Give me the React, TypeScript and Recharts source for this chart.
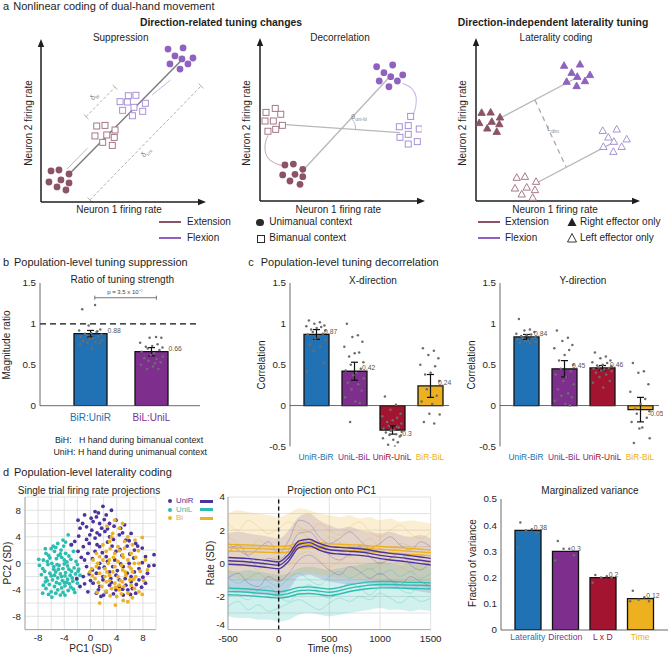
import React from "react"
import {
  Area,
  Bar,
  CartesianGrid,
  Cell,
  ComposedChart,
  ErrorBar,
  Line,
  ReferenceDot,
  ReferenceLine,
  Scatter,
  ScatterChart,
  XAxis,
  YAxis,
} from "recharts"

const FONT = '"Liberation Sans", Arial, Helvetica, sans-serif'
const INK = "#1e1e1e"
const AXIS = "#444"
const MAROON = "#8c5268"
const LILAC = "#8e62be"
const MAROON_OPEN = "#9b6b7d"
const LILAC_OPEN = "#9f86d2"
const BLUE = "#2171b5"
const PURPLE = "#7e2f8e"
const RED = "#a2142f"
const GOLD = "#edb120"
const INDIGO = "#4b34a0"
const TEAL = "#2dbdb1"
const AMBER = "#ecb124"
const DOT = "#6d6d6d"

const F_HEAD = 11
const F_BOLD = 10.4
const F_TITLE = 10
const F_LABEL = 10
const F_TICK = 9.8

// ---- a: schematic clusters (axis units 0..10) ----
const SUP_EXT_UNI = [[0.62, 1.94], [1.11, 2.0], [1.73, 1.75], [0.49, 1.25], [1.23, 1.38], [1.73, 1.19], [0.99, 0.94], [1.54, 0.75]]
const SUP_FLX_UNI = [[7.84, 9.56], [8.77, 9.63], [8.27, 9.13], [8.7, 8.94], [9.38, 9.0], [7.96, 8.63], [9.07, 8.63], [8.58, 8.31]]
const SUP_EXT_BI = [[3.44, 4.75], [3.95, 4.79], [4.57, 4.5], [3.33, 4.13], [4.06, 4.19], [4.52, 4.04], [3.81, 3.73], [4.4, 3.54]]
const SUP_FLX_BI = [[5.39, 6.64], [5.86, 6.67], [4.88, 6.27], [5.33, 6.25], [6.44, 6.17], [5.74, 5.92], [5.04, 5.73], [6.28, 5.67], [5.64, 5.39]]

const DEC_EXT_UNI = [[1.54, 2.25], [2.06, 2.31], [2.64, 1.98], [1.4, 1.63], [2.16, 1.67], [2.64, 1.52], [1.85, 1.25], [2.47, 1.04]]
const DEC_FLX_UNI = [[7.2, 8.39], [8.19, 8.5], [7.65, 8.02], [8.07, 7.77], [8.81, 7.88], [7.36, 7.5], [8.48, 7.5], [7.96, 7.14]]
const DEC_EXT_BI = [[0.37, 5.54], [0.94, 5.79], [1.28, 5.42], [0.31, 5.0], [0.82, 5.0], [1.38, 4.73], [0.49, 4.36], [0.97, 4.48]]
const DEC_FLX_BI = [[9.3, 5.29], [8.6, 4.64], [9.15, 4.71], [9.83, 4.5], [8.64, 3.98], [9.15, 4.17], [9.71, 3.71], [9.15, 3.56]]
const DEC_EXT_ARC = [[1.34, 2.21], [0.62, 2.56], [0.31, 3.19], [0.37, 3.81], [0.51, 4.11]]
const DEC_FLX_ARC = [[8.81, 7.36], [9.36, 7.04], [9.63, 6.52], [9.61, 5.89], [9.46, 5.38]]
const DEC_ANGLE_ARC = [[5.9, 4.47], [5.87, 4.77], [5.77, 4.99], [5.62, 5.18]]

const LAT_EXT_R = [[0.35, 5.52], [0.91, 5.54], [1.49, 5.23], [0.2, 4.88], [0.98, 4.96], [1.45, 4.81], [0.7, 4.54], [1.29, 4.33]]
const LAT_FLX_R = [[5.47, 8.46], [6.46, 8.54], [5.94, 8.02], [6.29, 7.77], [7.08, 7.88], [5.63, 7.46], [6.77, 7.5], [6.25, 7.19]]
const LAT_EXT_L = [[2.53, 1.46], [3.04, 1.52], [3.73, 1.21], [2.42, 0.79], [3.15, 0.85], [3.66, 0.69], [2.84, 0.42], [3.52, 0.21]]
const LAT_FLX_L = [[7.87, 4.39], [8.74, 4.48], [8.22, 3.98], [8.57, 3.71], [9.36, 3.86], [7.91, 3.39], [9.05, 3.39], [8.53, 3.08]]

// ---- b: ratio of tuning strength ----
const RATIO_NAMES = ["BiR:UniR", "BiL:UniL"]
const RATIO_MEANS = [0.88, 0.66]
const RATIO_SEM = [0.04, 0.05]
const RATIO_DOTS_R = [1.18, 1.23, 0.98, 0.93, 0.92, 0.9, 0.89, 0.88, 0.87, 0.86, 0.85, 0.84, 0.83, 0.82, 0.8, 0.79, 0.78, 0.77, 0.76, 0.75, 0.7, 0.91]
const RATIO_DOTS_L = [1.0, 0.84, 0.83, 0.83, 0.77, 0.75, 0.73, 0.72, 0.71, 0.7, 0.68, 0.66, 0.64, 0.62, 0.6, 0.58, 0.57, 0.55, 0.53, 0.5, 0.48, 0.45, 0.45, 0.52]

// ---- c: decorrelation ----
const CORR_NAMES = ["UniR-BiR", "UniL-BiL", "UniR-UniL", "BiR-BiL"]
const XCORR_MEANS = [0.87, 0.42, -0.3, 0.24]
const XCORR_SEM = [0.06, 0.11, 0.05, 0.14]
const XCORR_DOTS_1 = [1.04, 1.02, 1.0, 0.98, 0.97, 0.96, 0.95, 0.93, 0.92, 0.9, 0.88, 0.87, 0.85, 0.82, 0.8, 0.75, 0.72, 0.67, 0.52, 0.42]
const XCORR_DOTS_2 = [1.0, 0.86, 0.84, 0.78, 0.72, 0.65, 0.64, 0.6, 0.53, 0.5, 0.45, 0.43, 0.4, 0.37, 0.33, 0.28, 0.26, 0.2, 0.18, 0.1, 0.05, 0.03, -0.2]
const XCORR_DOTS_3 = [0.11, 0.01, -0.05, -0.1, -0.13, -0.15, -0.18, -0.2, -0.22, -0.25, -0.27, -0.28, -0.3, -0.3, -0.32, -0.33, -0.35, -0.36, -0.38, -0.4, -0.42, -0.45, -0.48, -0.5, -0.55, -0.37, -0.31, -0.26]
const XCORR_DOTS_4 = [0.7, 0.67, 0.62, 0.58, 0.5, 0.48, 0.4, 0.38, 0.3, 0.2, 0.12, 0.05, 0.02, -0.1, -0.11, -0.2, -0.22]
const YCORR_MEANS = [0.84, 0.45, 0.46, -0.05]
const YCORR_SEM = [0.03, 0.1, 0.03, 0.15]
const YCORR_DOTS_1 = [1.06, 0.93, 0.92, 0.9, 0.88, 0.87, 0.86, 0.85, 0.84, 0.83, 0.82, 0.81, 0.8, 0.79, 0.78, 0.77, 0.76]
const YCORR_DOTS_2 = [0.92, 0.83, 0.79, 0.74, 0.7, 0.68, 0.62, 0.55, 0.5, 0.45, 0.42, 0.38, 0.35, 0.3, 0.26, 0.2, 0.15, 0.12, 0.1, 0.06, 0.02, 0.0]
const YCORR_DOTS_3 = [0.65, 0.6, 0.58, 0.55, 0.53, 0.52, 0.5, 0.49, 0.48, 0.47, 0.46, 0.45, 0.44, 0.43, 0.42, 0.4, 0.38, 0.35, 0.3, 0.28, 0.22]
const YCORR_DOTS_4 = [0.52, 0.42, 0.4, 0.26, 0.17, 0.08, 0.02, -0.04, -0.07, -0.1, -0.15, -0.2, -0.27, -0.28, -0.4, -0.46, -0.55]

// ---- d: single-trial projections (PC1, PC2) ----
const UNIR_PTS = [[1.9, 8.6], [3.2, 8.0], [2.4, 7.3], [0.9, 7.0], [-1.9, 6.5], [0.4, 6.3], [1.4, 6.0], [-0.6, 5.5], [-1.6, 5.3], [1.7, 5.3], [3.9, 6.5], [5.2, 5.8], [6.2, 4.5], [4.4, 4.3], [2.9, 4.0], [-0.1, 4.3], [-2.4, 3.3], [-2.9, 2.8], [-1.1, 2.5], [1.4, 2.5], [6.7, 2.0], [7.9, 2.3], [3.9, 1.8], [-0.4, 1.5], [2.4, 1.0], [8.4, 1.0], [9.7, 1.3], [9.7, -0.3], [1.4, 0.0], [5.9, 0.0], [-0.6, -0.5], [7.4, -0.8], [2.9, -1.3], [0.9, -1.5], [3.9, -1.8], [6.2, -2.0], [-1.1, -2.0], [1.9, -2.5], [4.4, -2.5], [7.4, -2.5], [0.4, -3.0], [2.9, -3.3], [5.4, -3.3], [1.4, -3.5], [8.4, -3.0], [6.4, -3.8], [3.9, -4.0], [2.4, -4.3], [0.9, -4.5], [6.9, -4.5], [-0.4, -4.3], [5.0, -4.8], [-1.6, -3.5], [-2.1, -2.3], [0.7, 3.8], [1.4, 4.3], [2.2, 4.8], [0.2, 5.0], [3.7, 0.5], [5.0, -0.5], [6.7, -1.3], [3.4, -0.5], [1.9, -2.0], [4.4, -3.5], [6.2, -2.8], [0.7, 1.8], [-0.9, 0.5], [6.9, 3.0], [5.4, 3.5], [-0.9, 7.3], [0.7, 7.8], [2.9, 6.0], [8.7, -1.5], [5.7, -4.0], [1.0, 2.8], [2.6, 3.2], [-0.2, 3.0], [3.3, 2.6], [4.8, 1.2], [0.3, -1.0], [2.1, -0.6], [4.1, -1.1], [1.2, -4.0], [3.1, -2.3], [7.8, -3.6], [6.0, 1.4], [-1.4, 0.9], [0.0, -2.6], [5.6, 2.6], [4.6, 5.3], [1.2, 7.6], [2.1, 6.6], [0.1, 6.8], [-1.2, 6.0], [3.6, 5.6], [2.6, 5.2], [1.0, 4.6], [-0.6, 3.6], [-1.8, 4.1], [3.5, 3.6], [4.9, 4.6], [5.9, 3.4], [7.2, 2.6], [4.5, 2.1], [1.8, 1.6], [-1.9, 1.8], [0.3, 0.7], [6.6, 0.8], [7.9, 0.1], [8.9, -0.4], [4.6, -0.1], [2.6, 0.3], [-0.2, -1.6], [1.3, -0.7], [5.6, -1.5], [3.2, -2.9], [4.9, -3.9], [7.0, -3.2], [2.0, -4.8], [3.5, -4.6], [6.1, -4.7], [-0.9, -3.1], [1.6, -5.0], [8.0, -2.1], [5.3, -2.3]]
const UNIL_PTS = [[-3.4, 4.3], [-4.2, 3.5], [-5.0, 3.0], [-3.0, 2.8], [-6.0, 2.2], [-5.5, 1.8], [-4.5, 2.0], [-3.8, 1.5], [-2.6, 1.8], [-6.8, 1.5], [-7.2, 0.5], [-6.2, 0.8], [-5.2, 0.7], [-4.0, 0.5], [-3.0, 0.6], [-2.2, 0.3], [-7.8, -0.3], [-6.5, -0.2], [-5.6, -0.5], [-4.8, -0.3], [-4.2, -0.8], [-3.5, -0.4], [-2.5, -0.7], [-1.8, -0.9], [-7.0, -1.2], [-6.2, -1.5], [-5.3, -1.3], [-4.6, -1.6], [-3.8, -1.4], [-3.1, -1.8], [-2.3, -1.6], [-6.8, -2.2], [-5.8, -2.5], [-5.0, -2.2], [-4.3, -2.6], [-3.5, -2.4], [-2.7, -2.7], [-6.3, -3.2], [-5.5, -3.5], [-4.7, -3.1], [-3.9, -3.4], [-3.0, -3.6], [-2.0, -3.0], [-6.8, -3.8], [-6.0, -4.3], [-5.0, -4.0], [-4.2, -4.4], [-3.4, -4.1], [-5.9, -5.1], [-4.6, -4.8], [-7.3, -4.5], [-6.9, -2.8], [-4.9, 1.2], [-4.0, -0.1], [-5.9, 0.0], [-3.3, -0.9], [-5.2, -2.9], [-4.4, -2.0], [-6.4, 1.2], [-2.8, -2.2], [-1.6, -1.8], [-7.5, -1.7], [-5.7, 2.6], [-4.1, 2.6], [-3.6, -2.9], [-3.8, 3.2], [-5.3, 2.4], [-4.6, 1.4], [-3.3, 1.1], [-6.6, 0.3], [-5.6, -0.9], [-4.9, -0.9], [-3.9, -1.9], [-2.9, -1.2], [-2.1, -2.4], [-6.0, -1.9], [-7.3, -0.8], [-5.5, -1.8], [-4.0, -2.9], [-3.2, -3.1], [-6.6, -2.6], [-5.3, -4.5], [-4.4, -3.7], [-2.6, -3.9], [-7.2, -3.3], [-6.4, -4.7], [-3.9, -4.8], [-5.1, -0.2], [-3.6, 0.2], [-2.0, -0.2], [-6.9, 2.2], [-4.4, 0.9], [-7.9, 0.6], [-1.9, -1.2], [-2.4, -4.4]]
const BI_PTS = [[3.7, 6.5], [4.4, 5.3], [3.4, 4.5], [5.7, 4.0], [2.9, 3.3], [1.9, 2.8], [4.2, 2.5], [5.2, 2.3], [6.4, 2.8], [7.9, 3.9], [2.4, 1.8], [3.7, 1.5], [4.9, 1.3], [6.2, 1.5], [1.4, 1.0], [0.4, 0.5], [2.9, 0.5], [4.2, 0.3], [5.7, 0.5], [7.4, 0.0], [0.9, -0.5], [2.2, -0.8], [3.7, -0.5], [4.9, -1.0], [6.2, -0.8], [8.7, -1.0], [1.4, -1.5], [2.9, -1.8], [4.2, -2.0], [5.4, -1.8], [6.9, -2.0], [0.7, -2.3], [2.4, -2.8], [3.7, -3.0], [4.9, -2.8], [6.2, -3.3], [1.7, -3.5], [3.2, -3.8], [4.4, -4.0], [5.7, -4.5], [7.4, -4.3], [4.0, -5.0], [1.4, -6.0], [5.7, -5.8], [6.6, -2.4], [-0.1, -1.3], [2.7, 0.0], [4.7, -0.3], [3.4, -1.3], [1.9, 0.5], [5.9, -0.5], [4.4, 1.9], [5.2, 3.3], [3.2, 4.0], [6.7, 0.0], [2.2, -2.0], [4.4, -3.3], [8.4, 0.5], [0.9, 1.5], [6.4, -1.3], [2.5, 5.6], [4.9, 6.0], [3.0, 2.2], [6.8, 3.5], [7.3, 1.9], [5.0, 0.9], [3.5, 0.9], [1.1, 0.0], [0.2, -0.8], [2.5, -1.3], [5.3, -1.3], [7.6, -1.2], [8.1, -2.6], [6.0, -2.5], [4.6, -2.6], [2.9, -2.6], [1.2, -2.9], [3.8, -3.6], [5.1, -3.5], [6.7, -3.8], [2.4, -4.2], [4.7, -4.6], [3.0, -4.9], [6.4, -5.2], [7.9, -4.7], [1.0, -4.4], [3.8, -6.3], [5.0, -5.6], [0.3, -1.9], [6.9, 0.9]]

// ---- d: projection onto PC1 ----
const TIME_MS = [-500, -400, -300, -200, -100, 0, 100, 200, 300, 400, 500, 600, 700, 800, 900, 1000, 1100, 1200, 1300, 1400, 1500]
const UNIR_A = [0.35, 0.32, 0.28, 0.22, 0.15, 0.08, 0.55, 1.35, 1.45, 1.2, 1.02, 0.96, 0.92, 0.88, 0.8, 0.68, 0.6, 0.54, 0.46, 0.38, 0.3]
const UNIR_B = [0.15, 0.12, 0.08, 0.02, -0.05, -0.12, 0.35, 1.15, 1.25, 1.0, 0.82, 0.76, 0.72, 0.68, 0.6, 0.48, 0.4, 0.34, 0.26, 0.18, 0.1]
const UNIR_C = [-0.06, -0.09, -0.13, -0.19, -0.26, -0.33, 0.14, 0.95, 1.05, 0.8, 0.62, 0.56, 0.52, 0.48, 0.4, 0.28, 0.2, 0.14, 0.06, -0.02, -0.1]
const BI_A = [1.15, 1.12, 1.1, 1.08, 1.05, 1.02, 1.06, 1.25, 1.3, 1.25, 1.18, 1.15, 1.12, 1.1, 1.05, 1.02, 0.98, 0.95, 0.9, 0.85, 0.8]
const BI_B = [0.95, 0.92, 0.9, 0.88, 0.86, 0.84, 0.88, 1.08, 1.12, 1.08, 1.0, 0.97, 0.95, 0.92, 0.88, 0.85, 0.8, 0.77, 0.72, 0.68, 0.64]
const BI_C = [0.75, 0.72, 0.7, 0.68, 0.66, 0.64, 0.68, 0.9, 0.95, 0.9, 0.82, 0.8, 0.77, 0.75, 0.7, 0.67, 0.62, 0.58, 0.54, 0.5, 0.46]
const UNIL_A = [-1.5, -1.52, -1.55, -1.6, -1.65, -1.72, -1.62, -1.45, -1.42, -1.48, -1.55, -1.45, -1.3, -1.2, -1.12, -1.1, -1.1, -1.12, -1.15, -1.15, -1.18]
const UNIL_B = [-1.7, -1.72, -1.75, -1.8, -1.85, -1.92, -1.82, -1.65, -1.62, -1.68, -1.75, -1.65, -1.5, -1.4, -1.32, -1.28, -1.28, -1.3, -1.32, -1.33, -1.35]
const UNIL_C = [-1.9, -1.92, -1.95, -2.0, -2.05, -2.1, -2.02, -1.85, -1.82, -1.88, -1.95, -1.85, -1.7, -1.6, -1.52, -1.48, -1.48, -1.5, -1.52, -1.53, -1.55]
const UNIR_HIGH = [1.8, 1.9, 1.8, 1.7, 1.6, 1.5, 2.0, 2.8, 3.0, 2.6, 2.3, 2.1, 2.2, 2.0, 1.9, 1.8, 1.9, 1.7, 1.6, 1.7, 1.5]
const UNIR_LOW = [-1.6, -1.7, -1.8, -1.9, -1.9, -2.0, -1.6, -0.8, -0.7, -0.9, -1.1, -1.2, -1.3, -1.2, -1.3, -1.4, -1.5, -1.5, -1.6, -1.7, -1.8]
const BI_HIGH = [3.0, 3.2, 3.1, 3.0, 2.9, 2.8, 3.0, 3.3, 3.2, 3.0, 2.9, 2.8, 2.9, 2.7, 2.8, 2.6, 2.7, 2.5, 2.6, 2.5, 2.4]
const BI_LOW = [-0.8, -0.9, -1.0, -0.9, -1.0, -1.1, -0.9, -0.6, -0.6, -0.7, -0.8, -0.9, -0.9, -1.0, -1.0, -1.1, -1.1, -1.2, -1.2, -1.3, -1.3]
const UNIL_HIGH = [-0.4, -0.5, -0.4, -0.5, -0.6, -0.7, -0.6, -0.3, -0.2, -0.3, -0.4, -0.3, -0.2, -0.1, 0.0, 0.1, 0.0, -0.1, 0.0, -0.1, -0.2]
const UNIL_LOW = [-3.2, -3.3, -3.3, -3.4, -3.4, -3.5, -3.4, -3.1, -3.0, -3.1, -3.2, -3.1, -3.0, -2.9, -2.8, -2.7, -2.8, -2.8, -2.9, -2.8, -2.9]
const UNIR_TRIAL_1 = [1.2, 0.8, 0.5, 0.9, 1.3, 0.6, 1.4, 2.6, 2.4, 1.6, 1.2, 1.5, 1.9, 1.4, 0.9, 1.2, 1.6, 1.1, 0.8, 1.3, 1.0]
const UNIR_TRIAL_2 = [-0.9, -0.6, -1.2, -1.4, -0.8, -1.1, -0.6, 0.2, 0.5, 0.1, -0.4, -0.7, -0.2, -0.5, -0.9, -0.6, -1.0, -1.3, -0.8, -1.1, -1.4]
const UNIR_TRIAL_3 = [0.6, 1.1, 0.4, -0.2, 0.3, 0.2, 0.8, 1.8, 1.9, 1.3, 0.5, 0.2, 0.6, 1.0, 0.4, 0.0, 0.3, 0.6, -0.1, -0.4, 0.2]
const BI_TRIAL_1 = [2.4, 2.0, 2.6, 2.2, 1.8, 2.1, 2.5, 2.2, 1.9, 2.4, 2.0, 1.7, 2.2, 2.5, 1.9, 1.6, 2.0, 2.3, 1.8, 1.5, 1.9]
const BI_TRIAL_2 = [-0.2, 0.3, 0.0, -0.4, 0.2, 0.4, -0.1, 0.5, 0.7, 0.2, -0.2, 0.1, 0.4, -0.1, -0.4, 0.0, 0.3, -0.2, -0.5, -0.1, 0.1]
const BI_TRIAL_3 = [1.6, 1.2, 0.8, 1.4, 1.0, 0.6, 1.3, 1.9, 1.5, 1.0, 1.6, 1.3, 0.7, 1.1, 1.5, 0.9, 0.6, 1.2, 1.0, 0.5, 0.8]
const UNIL_TRIAL_1 = [-0.8, -1.2, -0.9, -0.6, -1.1, -1.4, -0.9, -0.6, -1.0, -1.3, -0.8, -0.5, -0.9, -0.6, -0.3, -0.7, -0.4, -0.8, -0.5, -0.9, -0.6]
const UNIL_TRIAL_2 = [-2.6, -2.3, -2.8, -2.5, -2.9, -2.7, -2.4, -2.2, -2.5, -2.8, -2.4, -2.1, -2.3, -2.0, -2.2, -1.8, -2.1, -2.4, -2.0, -2.3, -2.1]
const UNIL_TRIAL_3 = [-1.3, -1.9, -2.2, -1.6, -1.4, -2.0, -2.3, -1.7, -1.3, -1.8, -2.1, -1.6, -1.2, -1.5, -1.9, -1.4, -1.1, -1.6, -1.8, -1.3, -1.5]

// ---- d: marginalized variance ----
const MARG_NAMES = ["Laterality", "Direction", "L x D", "Time"]
const MARG_MEANS = [0.38, 0.3, 0.2, 0.12]
const MARG_DOTS_1 = [0.41, 0.385, 0.38, 0.37, 0.315]
const MARG_DOTS_2 = [0.34, 0.31, 0.31, 0.285, 0.265]
const MARG_DOTS_3 = [0.21, 0.205, 0.2, 0.2, 0.18]
const MARG_DOTS_4 = [0.15, 0.125, 0.115, 0.11, 0.11]

// horizontal spread of the per-session dots, in fractions of a category band
const JITTER = [-0.22, 0.12, -0.05, 0.26, -0.3, 0.16, 0.02, -0.15, 0.29, -0.1, 0.21, -0.26, 0.07, -0.02, 0.3, -0.19, 0.13, -0.08, 0.24, -0.28, 0.04, 0.18, -0.12, 0.09, -0.24, 0.27, -0.04, 0.15]

const PC_GRID = [-10, -8, -6, -4, -2, 0, 2, 4, 6, 8, 10]
const TIME_TICKS = [-500, 0, 500, 1000, 1500]
const RATE_GRID = [-4, -3, -2, -1, 0, 1, 2, 3, 4]

const toXY = (pts: number[][]) => pts.map(([x, y]) => ({ x, y }))

function Txt({ x, y, children, size = F_LABEL, color = INK, weight = 400, anchor = "start", rotate = 0 }: any) {
  const tx = anchor === "middle" ? "-50%" : anchor === "end" ? "-100%" : "0%"
  return (
    <div
      style={{
        position: "absolute",
        left: x,
        top: y,
        transform: `translate(${tx}, -50%) rotate(${rotate}deg)`,
        fontSize: size,
        lineHeight: 1,
        color,
        fontWeight: weight,
        whiteSpace: "pre",
      }}
    >
      {children}
    </div>
  )
}

const Sub = ({ children }: any) => <span style={{ fontSize: "0.65em", verticalAlign: "-0.35em" }}>{children}</span>

const dotMark = (color: string) => (p: any) => <circle cx={p.cx} cy={p.cy} r={3.4} fill={color} />
const squareMark = (color: string) => (p: any) => (
  <rect x={p.cx - 3} y={p.cy - 3} width={6} height={6} fill="#fff" stroke={color} strokeWidth={0.9} />
)
const triMark = (color: string, filled: boolean) => (p: any) => (
  <path
    d={`M${p.cx},${p.cy - 3.9}L${p.cx + 3.7},${p.cy + 2.7}L${p.cx - 3.7},${p.cy + 2.7}Z`}
    fill={filled ? color : "#fff"}
    stroke={color}
    strokeWidth={0.9}
  />
)
const noMark = () => <g />
const upHead = (p: any) => <path d={`M${p.cx - 3.2},${p.cy + 5}L${p.cx},${p.cy - 3}L${p.cx + 3.2},${p.cy + 5}Z`} fill={INK} />
const rightHead = (p: any) => <path d={`M${p.cx - 5},${p.cy - 3.2}L${p.cx + 3},${p.cy}L${p.cx - 5},${p.cy + 3.2}Z`} fill={INK} />

const seg = (p: number[], q: number[], stroke: string, width = 1.2, dash?: string) => (
  <ReferenceLine
    segment={[{ x: p[0], y: p[1] }, { x: q[0], y: q[1] }]}
    stroke={stroke}
    strokeWidth={width}
    strokeDasharray={dash}
    ifOverflow="visible"
  />
)

function Schematic({ x, y, w, h, children }: any) {
  const pad = 10
  return (
    <div style={{ position: "absolute", left: x - pad, top: y - pad }}>
      <ScatterChart width={w + 2 * pad} height={h + 2 * pad} margin={{ top: pad, right: pad, bottom: 0, left: 0 }}>
        <XAxis type="number" dataKey="x" domain={[0, 10]} allowDataOverflow tick={false} tickLine={false} height={pad} axisLine={{ stroke: INK, strokeWidth: 1.5 }} />
        <YAxis type="number" dataKey="y" domain={[0, 10]} allowDataOverflow tick={false} tickLine={false} width={pad} axisLine={{ stroke: INK, strokeWidth: 1.5 }} />
        {children}
        <ReferenceDot x={0} y={10} r={0} shape={upHead} ifOverflow="visible" />
        <ReferenceDot x={10} y={0} r={0} shape={rightHead} ifOverflow="visible" />
      </ScatterChart>
    </div>
  )
}

const grayDot = (p: any) => <circle cx={p.cx} cy={p.cy} r={1.25} fill={DOT} />
const valueLabel = (dx: number) => (p: any) => (
  <text x={p.cx + dx} y={p.cy + (p.payload.y < 0 ? 6.4 : -0.8)} fontSize={6.8} fill="#555">
    {String(p.payload.y)}
  </text>
)

function BarPanel({ plot, domain, ticks, names, colors, means, sems, dots, pad, barSize, spread, labelDx, catFont, catGap, baseline, children }: any) {
  const L = 40
  const T = 10
  const R = plot.r ?? 4
  const B = 22
  const rows = names.map((name: string, i: number) => ({ name, value: means[i], err: sems ? sems[i] : 0 }))
  const dotData = dots.flatMap((vals: number[], i: number) =>
    vals.map((v, j) => ({ x: i + 0.5 + JITTER[j % JITTER.length] * spread, y: v })),
  )
  const labelData = means.map((v: number, i: number) => ({ x: i + 0.5, y: v }))
  const catTick = (p: any) => (
    <text x={p.x} y={p.y} dy="0.71em" textAnchor="middle" fontSize={catFont} fill={colors[p.index]}>
      {p.payload.value}
    </text>
  )
  return (
    <div style={{ position: "absolute", left: plot.x - L, top: plot.y - T }}>
      <ComposedChart width={L + plot.w + R} height={T + plot.h + B} data={rows} margin={{ top: T, right: R, bottom: 0, left: 0 }}>
        <XAxis
          dataKey="name"
          type="category"
          height={B}
          padding={pad}
          interval={0}
          tick={catTick}
          tickLine={false}
          tickSize={0}
          tickMargin={catGap}
          axisLine={baseline ? { stroke: AXIS, strokeWidth: 0.8 } : false}
        />
        <XAxis xAxisId="num" type="number" dataKey="x" domain={[0, names.length]} padding={pad} hide />
        <YAxis
          type="number"
          domain={domain}
          ticks={ticks}
          interval={0}
          allowDataOverflow
          width={L}
          tickLine={false}
          tickSize={0}
          tickMargin={4}
          tick={{ fontSize: F_TICK, fill: INK }}
          axisLine={{ stroke: AXIS, strokeWidth: 0.8 }}
        />
        <YAxis yAxisId="lbl" type="number" domain={domain} hide />
        {children}
        <Bar dataKey="value" barSize={barSize} stroke="#111" strokeWidth={1.3} isAnimationActive={false}>
          {names.map((n: string, i: number) => (
            <Cell key={n} fill={colors[i]} />
          ))}
          {sems && <ErrorBar dataKey="err" width={3.5} stroke="#111" strokeWidth={1.2} />}
        </Bar>
        <Scatter xAxisId="num" data={dotData} dataKey="y" shape={grayDot} isAnimationActive={false} />
        <Scatter xAxisId="num" yAxisId="lbl" data={labelData} dataKey="y" shape={valueLabel(labelDx)} isAnimationActive={false} />
      </ComposedChart>
    </div>
  )
}

const pcLabel = (v: number) => (v % 4 === 0 && Math.abs(v) < 10 ? String(v) : "")
const pcDot = (color: string) => (p: any) => <circle cx={p.cx} cy={p.cy} r={1.9} fill={color} />
const rateTick = (p: any) => {
  const v = p.payload.value
  return (
    <text x={p.x} y={p.y} dy={v === -4 ? -1.5 : 3.4} textAnchor="end" fontSize={F_TICK} fill={INK}>
      {v % 2 === 0 ? String(v) : ""}
    </text>
  )
}

const projRows = TIME_MS.map((t, i) => ({
  t,
  rA: UNIR_A[i], rB: UNIR_B[i], rC: UNIR_C[i],
  bA: BI_A[i], bB: BI_B[i], bC: BI_C[i],
  lA: UNIL_A[i], lB: UNIL_B[i], lC: UNIL_C[i],
  rHi: UNIR_HIGH[i], rLo: UNIR_LOW[i],
  bHi: BI_HIGH[i], bLo: BI_LOW[i],
  lHi: UNIL_HIGH[i], lLo: UNIL_LOW[i],
  r1: UNIR_TRIAL_1[i], r2: UNIR_TRIAL_2[i], r3: UNIR_TRIAL_3[i],
  b1: BI_TRIAL_1[i], b2: BI_TRIAL_2[i], b3: BI_TRIAL_3[i],
  l1: UNIL_TRIAL_1[i], l2: UNIL_TRIAL_2[i], l3: UNIL_TRIAL_3[i],
}))

const BANDS = [
  { lo: "lLo", hi: "lHi", color: TEAL, op: 0.22 },
  { lo: "rLo", hi: "rHi", color: INDIGO, op: 0.16 },
  { lo: "bLo", hi: "bHi", color: AMBER, op: 0.2 },
]
const TRIALS = [
  { key: "l1", color: TEAL }, { key: "l2", color: TEAL }, { key: "l3", color: TEAL },
  { key: "r1", color: INDIGO }, { key: "r2", color: INDIGO }, { key: "r3", color: INDIGO },
  { key: "b1", color: AMBER }, { key: "b2", color: AMBER }, { key: "b3", color: AMBER },
]
const MEANS = [
  { key: "bA", color: AMBER }, { key: "bB", color: AMBER }, { key: "bC", color: AMBER },
  { key: "rA", color: INDIGO }, { key: "rB", color: INDIGO }, { key: "rC", color: INDIGO },
  { key: "lA", color: TEAL }, { key: "lB", color: TEAL }, { key: "lC", color: TEAL },
]

const legendLine = (x: number, y: number, w: number, color: string, thick = 2.2) => (
  <div style={{ position: "absolute", left: x, top: y - thick / 2, width: w, height: thick, background: color }} />
)

export default function App() {
  return (
    <div
      style={{
        position: "absolute",
        left: 0,
        top: 0,
        width: 668,
        height: 655,
        background: "#fff",
        fontFamily: FONT,
        color: INK,
        overflow: "hidden",
      }}
    >
      {/* ---------- a ---------- */}
      <Txt x={3} y={5.5} size={F_HEAD}>a</Txt>
      <Txt x={13.3} y={5.5} size={F_HEAD}>Nonlinear coding of dual-hand movement</Txt>
      <Txt x={221} y={22.7} anchor="middle" weight={700} size={F_BOLD}>Direction-related tuning changes</Txt>
      <Txt x={553} y={22.7} anchor="middle" weight={700} size={F_BOLD}>Direction-independent laterality tuning</Txt>
      <Txt x={120.7} y={37.7} anchor="middle" size={F_TITLE}>Suppression</Txt>
      <Txt x={340} y={37.7} anchor="middle" size={F_TITLE}>Decorrelation</Txt>
      <Txt x={556} y={37.7} anchor="middle" size={F_TITLE}>Laterality coding</Txt>

      <Schematic x={41} y={42} w={162} h={160}>
        {seg([1.79, 1.79], [8.69, 8.88], "#7a7a7a", 1.4)}
        {seg([1.59, 2.04], [2.86, 3.36], "#cfb3bf", 1)}
        {seg([8.0, 7.63], [6.86, 6.69], "#c8b8e4", 1)}
        {seg([2.78, 5.33], [4.57, 7.17], "#9a9a9a", 0.8, "3 2")}
        {seg([2.63, 5.48], [2.93, 5.18], "#9a9a9a", 0.8)}
        {seg([4.42, 7.32], [4.72, 7.02], "#9a9a9a", 0.8)}
        {seg([3.02, 0.13], [9.88, 7.25], "#9a9a9a", 0.8, "3 2")}
        {seg([2.87, 0.28], [3.17, -0.02], "#9a9a9a", 0.8)}
        {seg([9.73, 7.4], [10.03, 7.1], "#9a9a9a", 0.8)}
        <Scatter data={toXY(SUP_EXT_BI)} shape={squareMark(MAROON_OPEN)} isAnimationActive={false} />
        <Scatter data={toXY(SUP_FLX_BI)} shape={squareMark(LILAC_OPEN)} isAnimationActive={false} />
        <Scatter data={toXY(SUP_EXT_UNI)} shape={dotMark(MAROON)} isAnimationActive={false} />
        <Scatter data={toXY(SUP_FLX_UNI)} shape={dotMark(LILAC)} isAnimationActive={false} />
      </Schematic>
      <Txt x={95} y={96.7} anchor="middle" rotate={-45} size={7.5} color="#8a8a8a">δ<Sub>bi</Sub></Txt>
      <Txt x={146.7} y={153.3} anchor="middle" rotate={-45} size={7.5} color="#8a8a8a">δ<Sub>uni</Sub></Txt>

      <Schematic x={260} y={41} w={162} h={160}>
        {seg([2.67, 1.94], [7.92, 7.67], "#b8b8b8", 1.3)}
        {seg([1.13, 4.81], [8.64, 4.27], "#b8b8b8", 1.3)}
        <Scatter data={toXY(DEC_ANGLE_ARC)} line={{ stroke: "#aaa", strokeWidth: 0.8 }} lineType="joint" lineJointType="natural" shape={noMark} isAnimationActive={false} />
        <Scatter data={toXY(DEC_EXT_ARC)} line={{ stroke: "#cdb0bc", strokeWidth: 1.1 }} lineType="joint" lineJointType="natural" shape={noMark} isAnimationActive={false} />
        <Scatter data={toXY(DEC_FLX_ARC)} line={{ stroke: "#c9b8e6", strokeWidth: 1.1 }} lineType="joint" lineJointType="natural" shape={noMark} isAnimationActive={false} />
        <Scatter data={toXY(DEC_EXT_BI)} shape={squareMark(MAROON_OPEN)} isAnimationActive={false} />
        <Scatter data={toXY(DEC_FLX_BI)} shape={squareMark(LILAC_OPEN)} isAnimationActive={false} />
        <Scatter data={toXY(DEC_EXT_UNI)} shape={dotMark(MAROON)} isAnimationActive={false} />
        <Scatter data={toXY(DEC_FLX_UNI)} shape={dotMark(LILAC)} isAnimationActive={false} />
      </Schematic>
      <Txt x={351} y={117.5} size={7.5} color="#8a8a8a">θ<Sub>uni-bi</Sub></Txt>

      <Schematic x={476} y={41} w={161} h={160}>
        {seg([1.49, 5.17], [6.46, 7.81], "#b8b8b8", 1.3)}
        {seg([3.73, 1.11], [8.63, 3.71], "#b8b8b8", 1.3)}
        {seg([3.66, 6.31], [5.59, 2.14], "#aaaaaa", 1.3, "5 4")}
        <Scatter data={toXY(LAT_EXT_R)} shape={triMark(MAROON, true)} isAnimationActive={false} />
        <Scatter data={toXY(LAT_FLX_R)} shape={triMark(LILAC, true)} isAnimationActive={false} />
        <Scatter data={toXY(LAT_EXT_L)} shape={triMark(MAROON_OPEN, false)} isAnimationActive={false} />
        <Scatter data={toXY(LAT_FLX_L)} shape={triMark(LILAC_OPEN, false)} isAnimationActive={false} />
      </Schematic>
      <Txt x={547} y={130} size={7.5} color="#8a8a8a">L<Sub>dim</Sub></Txt>

      <Txt x={119} y={210} anchor="middle">Neuron 1 firing rate</Txt>
      <Txt x={338.3} y={210} anchor="middle">Neuron 1 firing rate</Txt>
      <Txt x={555} y={210} anchor="middle">Neuron 1 firing rate</Txt>
      <Txt x={29.3} y={123} anchor="middle" rotate={-90}>Neuron 2 firing rate</Txt>
      <Txt x={246.7} y={123} anchor="middle" rotate={-90}>Neuron 2 firing rate</Txt>
      <Txt x={463.3} y={123} anchor="middle" rotate={-90}>Neuron 2 firing rate</Txt>

      {legendLine(159, 222.3, 22, MAROON)}
      <Txt x={187} y={222.3}>Extension</Txt>
      {legendLine(159, 237.7, 22, LILAC)}
      <Txt x={187} y={237.7}>Flexion</Txt>

      <div style={{ position: "absolute", left: 256.3, top: 218.6, width: 7.4, height: 7.4, borderRadius: "50%", background: "#2a2a2a" }} />
      <Txt x={269.3} y={222.3}>Unimanual context</Txt>
      <div style={{ position: "absolute", left: 256.5, top: 234.5, width: 6, height: 6, border: "1px solid #2a2a2a" }} />
      <Txt x={269.3} y={238}>Bimanual context</Txt>

      {legendLine(478, 222.3, 22, MAROON)}
      <Txt x={505} y={222.3}>Extension</Txt>
      {legendLine(478, 237.7, 22, LILAC)}
      <Txt x={505} y={237.7}>Flexion</Txt>
      <svg style={{ position: "absolute", left: 566, top: 216 }} width={12} height={12}>
        <path d="M6,1.5L10.5,10L1.5,10Z" fill="#222" />
      </svg>
      <Txt x={580} y={222.3}>Right effector only</Txt>
      <svg style={{ position: "absolute", left: 566, top: 231.7 }} width={12} height={12}>
        <path d="M6,1.5L10.5,10L1.5,10Z" fill="#fff" stroke="#222" strokeWidth={0.9} />
      </svg>
      <Txt x={580} y={237.7}>Left effector only</Txt>

      {/* ---------- b ---------- */}
      <Txt x={3} y={262.3} size={F_HEAD}>b</Txt>
      <Txt x={14} y={262.3} size={F_HEAD}>Population-level tuning suppression</Txt>
      <Txt x={122.3} y={280} anchor="middle" size={F_TITLE}>Ratio of tuning strength</Txt>
      <Txt x={7.3} y={345} anchor="middle" rotate={-90}>Magnitude ratio</Txt>
      <BarPanel
        plot={{ x: 40, y: 283.3, w: 160, h: 122.7, r: 8 }}
        domain={[0, 1.5]}
        ticks={[0, 0.5, 1, 1.5]}
        names={RATIO_NAMES}
        colors={[BLUE, PURPLE]}
        means={RATIO_MEANS}
        sems={RATIO_SEM}
        dots={[RATIO_DOTS_R, RATIO_DOTS_L]}
        pad={{ left: 20, right: 18 }}
        barSize={33}
        spread={0.62}
        labelDx={17}
        catFont={10}
        catGap={8.3}
        baseline
      >
        <ReferenceLine y={1} stroke="#111" strokeWidth={1.4} strokeDasharray="6 4" />
        <ReferenceLine xAxisId="num" segment={[{ x: 0.57, y: 1.32 }, { x: 1.58, y: 1.32 }]} stroke="#555" strokeWidth={0.8} />
        <ReferenceLine xAxisId="num" segment={[{ x: 0.57, y: 1.345 }, { x: 0.57, y: 1.295 }]} stroke="#555" strokeWidth={0.8} />
        <ReferenceLine xAxisId="num" segment={[{ x: 1.58, y: 1.345 }, { x: 1.58, y: 1.295 }]} stroke="#555" strokeWidth={0.8} />
      </BarPanel>
      <Txt x={125} y={291.5} anchor="middle" size={6} color="#444">p = 3.5 x 10⁻⁷</Txt>
      <Txt x={55} y={440} size={8.8}>{"BiH:   H hand during bimanual context"}</Txt>
      <Txt x={53.5} y={452.3} size={8.8}>{"UniH: H hand during unimanual context"}</Txt>

      {/* ---------- c ---------- */}
      <Txt x={248.3} y={262.3} size={F_HEAD}>c</Txt>
      <Txt x={260.7} y={262.3} size={F_HEAD}>Population-level tuning decorrelation</Txt>
      <Txt x={373} y={281} anchor="middle" size={F_TITLE}>X-direction</Txt>
      <Txt x={583} y={281} anchor="middle" size={F_TITLE}>Y-direction</Txt>
      <Txt x={262} y={365} anchor="middle" rotate={-90}>Correlation</Txt>
      <Txt x={472.3} y={365} anchor="middle" rotate={-90}>Correlation</Txt>
      <BarPanel
        plot={{ x: 290, y: 283.3, w: 159, h: 163.4 }}
        domain={[-0.5, 1.5]}
        ticks={[-0.5, 0, 0.5, 1, 1.5]}
        names={CORR_NAMES}
        colors={[BLUE, PURPLE, RED, GOLD]}
        means={XCORR_MEANS}
        sems={XCORR_SEM}
        dots={[XCORR_DOTS_1, XCORR_DOTS_2, XCORR_DOTS_3, XCORR_DOTS_4]}
        pad={{ left: 7, right: 0 }}
        barSize={25}
        spread={0.85}
        labelDx={8}
        catFont={8.4}
        catGap={8}
        baseline={false}
      >
        <ReferenceLine y={0} stroke={AXIS} strokeWidth={0.8} />
      </BarPanel>
      <BarPanel
        plot={{ x: 500, y: 283.3, w: 159, h: 163.4 }}
        domain={[-0.5, 1.5]}
        ticks={[-0.5, 0, 0.5, 1, 1.5]}
        names={CORR_NAMES}
        colors={[BLUE, PURPLE, RED, GOLD]}
        means={YCORR_MEANS}
        sems={YCORR_SEM}
        dots={[YCORR_DOTS_1, YCORR_DOTS_2, YCORR_DOTS_3, YCORR_DOTS_4]}
        pad={{ left: 7, right: 0 }}
        barSize={25}
        spread={0.85}
        labelDx={8}
        catFont={8.4}
        catGap={8}
        baseline={false}
      >
        <ReferenceLine y={0} stroke={AXIS} strokeWidth={0.8} />
      </BarPanel>

      {/* ---------- d ---------- */}
      <Txt x={3} y={471.7} size={F_HEAD}>d</Txt>
      <Txt x={14} y={471.7} size={F_HEAD}>Population-level laterality coding</Txt>
      <Txt x={89} y={491} anchor="middle" size={F_TITLE}>Single trial firing rate projections</Txt>
      <Txt x={331.7} y={491} anchor="middle" size={F_TITLE}>Projection onto PC1</Txt>
      <Txt x={590} y={490.7} anchor="middle" size={F_TITLE}>Marginalized variance</Txt>

      <div style={{ position: "absolute", left: 0, top: 490.7 }}>
        <ScatterChart width={160} height={154.6} margin={{ top: 6, right: 4, bottom: 0, left: 0 }}>
          <CartesianGrid stroke="#dadada" strokeWidth={0.8} />
          <XAxis type="number" dataKey="x" domain={[-10, 10]} ticks={PC_GRID} interval={0} tickFormatter={pcLabel} height={16} tickLine={false} tickSize={0} tickMargin={4} axisLine={{ stroke: "#999", strokeWidth: 0.8 }} tick={{ fontSize: F_TICK, fill: INK }} />
          <YAxis type="number" dataKey="y" domain={[-10, 10]} ticks={PC_GRID} interval={0} tickFormatter={pcLabel} width={25} tickLine={false} tickSize={0} tickMargin={4} axisLine={{ stroke: "#999", strokeWidth: 0.8 }} tick={{ fontSize: F_TICK, fill: INK }} />
          <Scatter data={toXY(UNIL_PTS)} shape={pcDot(TEAL)} isAnimationActive={false} />
          <Scatter data={toXY(UNIR_PTS)} shape={pcDot(INDIGO)} isAnimationActive={false} />
          <Scatter data={toXY(BI_PTS)} shape={pcDot(AMBER)} isAnimationActive={false} />
        </ScatterChart>
      </div>
      <Txt x={90.7} y={649} anchor="middle">PC1 (SD)</Txt>
      <Txt x={8.3} y={563} anchor="middle" rotate={-90}>PC2 (SD)</Txt>
      <div style={{ position: "absolute", left: 168, top: 499, width: 4, height: 4, borderRadius: "50%", background: INDIGO }} />
      <Txt x={176} y={501} size={7.8} color={INDIGO}>UniR</Txt>
      {legendLine(200, 501, 13, INDIGO, 3)}
      <div style={{ position: "absolute", left: 168, top: 507.7, width: 4, height: 4, borderRadius: "50%", background: TEAL }} />
      <Txt x={176} y={509.7} size={7.8} color={TEAL}>UniL</Txt>
      {legendLine(200, 509.7, 13, TEAL, 3)}
      <div style={{ position: "absolute", left: 168, top: 516, width: 4, height: 4, borderRadius: "50%", background: AMBER }} />
      <Txt x={176} y={518} size={7.8} color={AMBER}>Bi</Txt>
      {legendLine(200, 518, 13, AMBER, 3)}

      <div style={{ position: "absolute", left: 203.3, top: 490.7 }}>
        <ComposedChart width={243.7} height={154.6} data={projRows} margin={{ top: 6, right: 16, bottom: 0, left: 0 }}>
          <CartesianGrid stroke="#dadada" strokeWidth={0.8} />
          <XAxis dataKey="t" type="number" domain={[-500, 1500]} ticks={TIME_TICKS} interval={0} height={16} tickLine={false} tickSize={0} tickMargin={5} axisLine={{ stroke: "#999", strokeWidth: 0.8 }} tick={{ fontSize: F_TICK, fill: INK }} />
          <YAxis type="number" domain={[-4, 4]} ticks={RATE_GRID} interval={0} allowDataOverflow width={25} tickLine={false} tickSize={0} tickMargin={3} axisLine={{ stroke: "#999", strokeWidth: 0.8 }} tick={rateTick} />
          {BANDS.map((b) => (
            <Area
              key={b.lo}
              type="monotone"
              dataKey={(d: any) => [d[b.lo], d[b.hi]]}
              stroke="none"
              fill={b.color}
              fillOpacity={b.op}
              isAnimationActive={false}
            />
          ))}
          {TRIALS.map((s) => (
            <Line key={s.key} type="monotone" dataKey={s.key} stroke={s.color} strokeOpacity={0.45} strokeWidth={0.6} dot={false} isAnimationActive={false} />
          ))}
          {MEANS.map((s) => (
            <Line key={s.key} type="monotone" dataKey={s.key} stroke={s.color} strokeWidth={1.4} dot={false} isAnimationActive={false} />
          ))}
          <ReferenceLine x={0} stroke="#111" strokeWidth={1.4} strokeDasharray="4 3" />
        </ComposedChart>
      </div>
      <Txt x={329.7} y={649} anchor="middle">Time (ms)</Txt>
      <Txt x={210.5} y={563} anchor="middle" rotate={-90}>Rate (SD)</Txt>

      <Txt x={472.7} y={563} anchor="middle" rotate={-90}>Fraction of variance</Txt>
      <BarPanel
        plot={{ x: 500.7, y: 499, w: 167, h: 131, r: 0 }}
        domain={[0, 0.5]}
        ticks={[0, 0.1, 0.2, 0.3, 0.4, 0.5]}
        names={MARG_NAMES}
        colors={[BLUE, PURPLE, RED, GOLD]}
        means={MARG_MEANS}
        dots={[MARG_DOTS_1, MARG_DOTS_2, MARG_DOTS_3, MARG_DOTS_4]}
        pad={{ left: 8, right: 9 }}
        barSize={26}
        spread={0.9}
        labelDx={6}
        catFont={8.6}
        catGap={4}
        baseline
      />
    </div>
  )
}
